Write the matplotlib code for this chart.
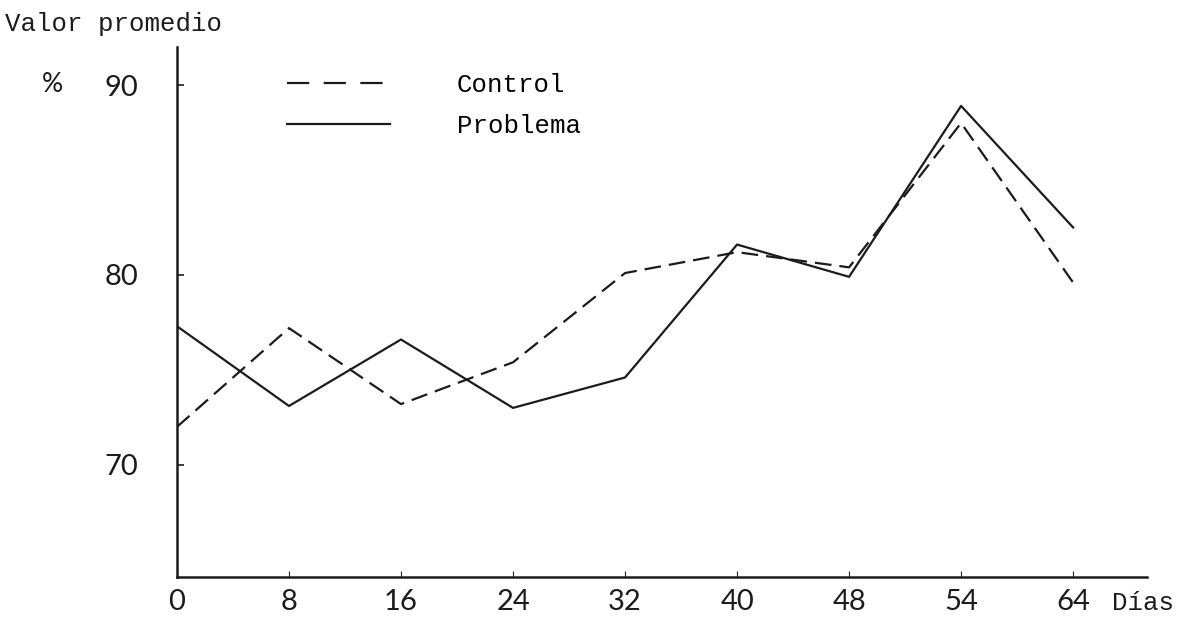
import matplotlib.pyplot as plt
from matplotlib.lines import Line2D

# valores
dias = ['0', '8', '16', '24', '32', '40', '48', '54', '64']
control = [72.0, 77.2, 73.2, 75.4, 80.1, 81.2, 80.4, 88.0, 79.6]
problema = [77.3, 73.1, 76.6, 73.0, 74.6, 81.6, 79.9, 88.9, 82.5]
y_ticks = [70, 80, 90]

TYPE_FONT = 'Liberation Mono'
HAND_FONT = 'Lato'
INK = '#1c1c1c'

fig = plt.figure(figsize=(11.83, 6.19), dpi=100)
ax = fig.add_axes([0.1496, 0.068, 0.82, 0.856])

x = range(len(dias))
ax.plot(x, control, color=INK, lw=1.6, dashes=(7.5, 3.6))
ax.plot(x, problema, color=INK, lw=1.6)

ax.set_xlim(0, 8.66)
ax.set_ylim(64.1, 92.0)
ax.set_xticks(list(x))
ax.set_xticklabels(dias, fontfamily=HAND_FONT, fontweight='normal', fontsize=21)
ax.set_yticks(y_ticks)
ax.set_yticklabels([str(v) for v in y_ticks], fontfamily=HAND_FONT,
                   fontweight='normal', fontsize=21)

for side in ('top', 'right'):
    ax.spines[side].set_visible(False)
for side in ('left', 'bottom'):
    ax.spines[side].set_linewidth(1.8)
    ax.spines[side].set_color(INK)
ax.tick_params(axis='x', direction='in', length=4, width=0.8, pad=9,
               colors=INK, labelcolor=INK)
ax.tick_params(axis='y', direction='in', length=5, width=1.2, pad=28,
               colors=INK, labelcolor=INK)

handles = [Line2D([], [], color=INK, lw=1.6, dashes=(10, 6.5)),
           Line2D([], [], color=INK, lw=1.6)]
ax.legend(handles, ['Control', 'Problema'], loc='upper left',
          bbox_to_anchor=(287 / 1183, 1 - 73 / 619), bbox_transform=fig.transFigure,
          frameon=False, prop={'family': TYPE_FONT, 'size': 18.5},
          handlelength=4.0, handletextpad=2.6, labelspacing=0.65,
          borderpad=0, borderaxespad=0)

fig.text(5 / 1183, 1 - 24 / 619, 'Valor promedio', family=TYPE_FONT,
         fontsize=18.5, va='center', ha='left', color=INK)
fig.text(52 / 1183, 1 - 84 / 619, '%', family=HAND_FONT, fontweight='normal',
         fontsize=19, va='center', ha='center', color=INK)
fig.text(1112 / 1183, 1 - 603 / 619, 'Días', family=TYPE_FONT,
         fontsize=18.5, va='center', ha='left', color=INK)

fig.savefig('out.png', dpi=100)
